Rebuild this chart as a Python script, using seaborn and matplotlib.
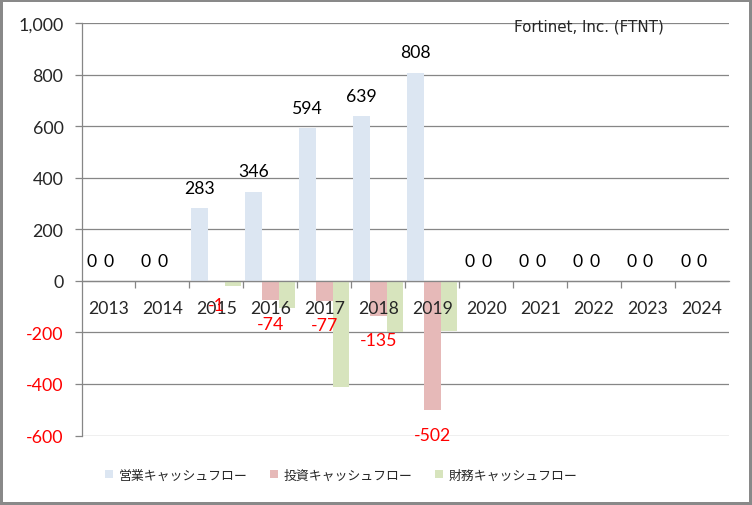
import matplotlib
matplotlib.use("Agg")
import matplotlib.pyplot as plt
from matplotlib.patches import Patch
from matplotlib.ticker import FuncFormatter, FixedLocator
import seaborn as sns
import pandas as pd

years = ["2013", "2014", "2015", "2016", "2017", "2018", "2019",
         "2020", "2021", "2022", "2023", "2024"]
operating_cf = [0, 0, 283, 346, 594, 639, 808, 0, 0, 0, 0, 0]
investing_cf = [0, 0, -1, -74, -77, -135, -502, 0, 0, 0, 0, 0]
financing_cf = [0, 0, -22, -104, -412, -200, -194, 0, 0, 0, 0, 0]
series_names = ["営業キャッシュフロー", "投資キャッシュフロー", "財務キャッシュフロー"]
series_colors = ["#DCE6F2", "#E6B9B8", "#D7E4BD"]
y_ticks = [-600, -400, -200, 0, 200, 400, 600, 800, 1000]
note_text = "Fortinet, Inc. (FTNT)"

sns.set_theme(style="white")
plt.rcParams["font.family"] = ["Lato", "Noto Sans CJK JP", "DejaVu Sans"]

df = pd.DataFrame({
    "year": years * 3,
    "value": operating_cf + investing_cf + financing_cf,
    "series": [series_names[0]] * 12 + [series_names[1]] * 12 + [series_names[2]] * 12,
})

fig = plt.figure(figsize=(7.52, 5.06), dpi=100)
ax = fig.add_axes([81.5 / 752, 1 - 436.5 / 506, (729 - 81.5) / 752, (436.5 - 24) / 506])

sns.barplot(data=df, x="year", y="value", hue="series", order=years,
            hue_order=series_names, palette=series_colors, saturation=1,
            width=0.93, gap=0, errorbar=None, legend=False, linewidth=0, ax=ax)

grid_c = "#868686"
ax.set_ylim(-600, 1000)
ax.set_xlim(-0.5, len(years) - 0.5)
ax.yaxis.set_major_locator(FixedLocator(y_ticks))
ax.yaxis.set_major_formatter(FuncFormatter(lambda v, p: f"{int(v):,}"))
for v in y_ticks:
    ax.axhline(v, color=grid_c, lw=0.9, zorder=0.5)

for s in ["top", "right"]:
    ax.spines[s].set_visible(False)
ax.spines["left"].set_color(grid_c)
ax.spines["left"].set_linewidth(0.9)
ax.spines["bottom"].set_position(("data", 0))
ax.spines["bottom"].set_color(grid_c)
ax.spines["bottom"].set_linewidth(0.9)
ax.spines["bottom"].set_zorder(3)

ax.tick_params(axis="y", which="major", length=5, width=0.9, color=grid_c,
               direction="out", pad=8, labelsize=12.9, left=True)
ax.tick_params(axis="x", which="major", length=0, pad=14, labelsize=12.7)
ax.set_xticks([i + 0.5 for i in range(len(years) - 1)], minor=True)
ax.tick_params(axis="x", which="minor", length=5, width=0.9, color=grid_c,
               direction="out", bottom=True)
ax.set_xlabel("")
ax.set_ylabel("")
ax.xaxis.set_zorder(4)
ax.yaxis.set_zorder(4)

fig.canvas.draw()
for lab in ax.get_yticklabels():
    t = lab.get_text().replace(",", "").replace("\u2212", "-")
    if t.startswith("-"):
        lab.set_color("red")

# data labels
op_bars = ax.containers[0]
inv_bars = ax.containers[1]
for bar, v in zip(op_bars, operating_cf):
    cx = bar.get_x() + bar.get_width() / 2
    ax.annotate(f"{v}", (cx, v), xytext=(0, 14.5), textcoords="offset points",
                ha="center", va="center", fontsize=12.7, color="black", zorder=5)
for bar, v in zip(inv_bars, investing_cf):
    cx = bar.get_x() + bar.get_width() / 2
    if v < 0:
        ax.annotate(f"{v}", (cx, v), xytext=(0, -17.5), textcoords="offset points",
                    ha="center", va="center", fontsize=12.7, color="red", zorder=5)
    else:
        ax.annotate(f"{v}", (cx, v), xytext=(0, 14.5), textcoords="offset points",
                    ha="center", va="center", fontsize=12.7, color="black", zorder=5)

fig.text(514 / 752, 1 - 27 / 506, note_text, fontsize=10.9, va="center", ha="left",
         family=["DejaVu Sans"])

handles = [Patch(facecolor=c, edgecolor="none") for c in series_colors]
fig.legend(handles, series_names, loc="center", bbox_to_anchor=(341 / 752, 1 - 476 / 506),
           ncol=3, frameon=False, handlelength=0.6, handleheight=0.6, handletextpad=0.45,
           columnspacing=1.75, prop={"family": ["Noto Sans CJK JP"], "size": 9.3})

fig.patch.set_edgecolor("#898989")
fig.patch.set_linewidth(3)
fig.savefig("out.png", dpi=100, edgecolor=fig.patch.get_edgecolor())
